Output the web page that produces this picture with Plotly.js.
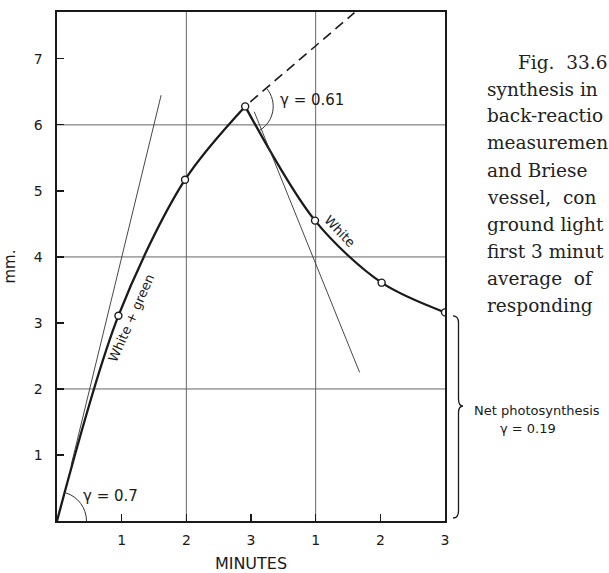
<!DOCTYPE html>
<html>
<head>
<meta charset="utf-8">
<script src="https://cdn.plot.ly/plotly-3.0.1.min.js"></script>
<style>html,body{margin:0;padding:0;background:#fff;}</style>
</head>
<body>
<div id="chart" style="width:609px;height:573px;"></div>
<script>
// ---------- data ----------
const riseMinutes = [0, 0.95, 1.98, 2.91];          // White + green light
const riseMM      = [0, 3.11, 5.17, 6.28];
const fallMinutes = [2.91, 3.99, 5.02, 6.0];         // White light only
const fallMM      = [6.28, 4.55, 3.61, 3.16];
const pointMinutes = [0.95, 1.98, 2.91, 3.99, 5.02, 6.0];
const pointMM      = [3.11, 5.17, 6.28, 4.55, 3.61, 3.16];
const initTangentX = [0.22, 1.61];   // initial slope, gamma = 0.7
const initTangentY = [0.85, 6.45];
const backTangentX = [3.05, 4.68];   // slope after switching green off
const backTangentY = [6.20, 2.25];
const extrapX = [2.99, 4.60];        // dashed extrapolation
const extrapY = [6.35, 7.70];
const xTickVals = [1, 2, 3, 4, 5, 6];
const xTickText = ['1', '2', '3', '1', '2', '3'];
const yTickVals = [1, 2, 3, 4, 5, 6, 7];
// caption column as visible in the (cropped) figure
const captionLines = ['Fig.  33.6', 'synthesis in', 'back-reactio', 'measuremen',
  'and Briese', 'vessel,  con', 'ground light', 'first 3 minut', 'average  of', 'responding'];

// ---------- geometry helpers (decoration only) ----------
const W = 609, H = 573;
const M = {l: 57, r: 164, t: 12, b: 52};
const XR = [0, 6], YR = [0, 7.71];
const pw = W - M.l - M.r, ph = H - M.t - M.b;
const xs = pw / (XR[1] - XR[0]), ys = ph / (YR[1] - YR[0]);
const px2paperX = p => (p - M.l) / pw;
const px2paperY = p => (H - M.b - p) / ph;

function arcPath(cx, cy, rPx, a1, a2) {
  const t1 = a1 * Math.PI / 180, t2 = a2 * Math.PI / 180;
  const k = 4 / 3 * Math.tan((t2 - t1) / 4);
  const P = (t) => [rPx * Math.cos(t), rPx * Math.sin(t)];
  const p0 = P(t1), p3 = P(t2);
  const p1 = [p0[0] - k * rPx * Math.sin(t1), p0[1] + k * rPx * Math.cos(t1)];
  const p2 = [p3[0] + k * rPx * Math.sin(t2), p3[1] - k * rPx * Math.cos(t2)];
  const d = (p) => (cx + p[0] / xs).toFixed(4) + ',' + (cy + p[1] / ys).toFixed(4);
  return 'M' + d(p0) + ' C' + d(p1) + ' ' + d(p2) + ' ' + d(p3);
}

function bracePath() {
  const X = p => px2paperX(p).toFixed(4), Y = p => px2paperY(p).toFixed(4);
  const xl = 453, xm = 458.5, xt = 463, top = 316, bot = 518, tip = 406;
  return 'M' + X(xl) + ',' + Y(top) +
    ' Q' + X(xm) + ',' + Y(top) + ' ' + X(xm) + ',' + Y(top + 7) +
    ' L' + X(xm) + ',' + Y(tip - 7) +
    ' Q' + X(xm) + ',' + Y(tip) + ' ' + X(xt) + ',' + Y(tip) +
    ' Q' + X(xm) + ',' + Y(tip) + ' ' + X(xm) + ',' + Y(tip + 7) +
    ' L' + X(xm) + ',' + Y(bot - 7) +
    ' Q' + X(xm) + ',' + Y(bot) + ' ' + X(xl) + ',' + Y(bot);
}

const ink = '#1a1a1a';
const sans = 'DejaVu Sans, sans-serif';

const traces = [
  {x: riseMinutes, y: riseMM, mode: 'lines', line: {color: ink, width: 2.3, shape: 'spline', smoothing: 0.9}, hoverinfo: 'skip'},
  {x: fallMinutes, y: fallMM, mode: 'lines', line: {color: ink, width: 2.3, shape: 'spline', smoothing: 0.9}, hoverinfo: 'skip'},
  {x: initTangentX, y: initTangentY, mode: 'lines', line: {color: '#333', width: 0.9}},
  {x: backTangentX, y: backTangentY, mode: 'lines', line: {color: '#333', width: 0.9}},
  {x: extrapX, y: extrapY, mode: 'lines', line: {color: ink, width: 1.6, dash: '10px,6px'}},
  {x: pointMinutes, y: pointMM, mode: 'markers', marker: {size: 7, color: '#fff', line: {color: ink, width: 1.4}}}
];

const shapes = [];
[2, 4].forEach(v => shapes.push({type: 'line', xref: 'x', yref: 'paper', x0: v, x1: v, y0: 0, y1: 1, line: {color: '#555', width: 0.9}, layer: 'below'}));
[2, 4, 6].forEach(v => shapes.push({type: 'line', xref: 'paper', yref: 'y', x0: 0, x1: 1, y0: v, y1: v, line: {color: '#555', width: 0.9}, layer: 'below'}));
shapes.push({type: 'path', xref: 'x', yref: 'y', path: arcPath(0, 0, 29.5, 0, 73), line: {color: '#333', width: 1}});
shapes.push({type: 'path', xref: 'x', yref: 'y', path: arcPath(2.91, 6.28, 28, -60, 40), line: {color: '#333', width: 1}});
shapes.push({type: 'path', xref: 'paper', yref: 'paper', path: bracePath(), line: {color: ink, width: 1.3}});

const annotations = [
  {x: 0.83, y: 0.38, xref: 'x', yref: 'y', text: 'γ = 0.7', showarrow: false, font: {family: sans, size: 15, color: ink}},
  {x: 3.95, y: 6.38, xref: 'x', yref: 'y', text: 'γ = 0.61', showarrow: false, font: {family: sans, size: 15, color: ink}},
  {x: 4.38, y: 4.39, xref: 'x', yref: 'y', text: 'White', textangle: 46, showarrow: false, font: {family: sans, size: 13, color: ink}},
  {x: 1.155, y: 3.08, xref: 'x', yref: 'y', text: 'White + green', textangle: -66, showarrow: false, font: {family: sans, size: 13, color: ink}},
  {x: px2paperX(472), y: px2paperY(410), xref: 'paper', yref: 'paper', xanchor: 'left', yanchor: 'middle', text: 'Net photosynthesis', showarrow: false, font: {family: sans, size: 13, color: ink}},
  {x: px2paperX(498), y: px2paperY(428), xref: 'paper', yref: 'paper', xanchor: 'left', yanchor: 'middle', text: 'γ = 0.19', showarrow: false, font: {family: sans, size: 13, color: ink}}
];
captionLines.forEach((t, i) => {
  annotations.push({x: px2paperX(i === 0 ? 516 : 485), y: px2paperY(62 + 27 * i), xref: 'paper', yref: 'paper',
    xanchor: 'left', yanchor: 'middle', text: t, showarrow: false, font: {family: 'DejaVu Serif, serif', size: 18.5, color: '#222'}});
});

const layout = {
  width: W, height: H,
  margin: M,
  paper_bgcolor: '#fff', plot_bgcolor: '#fff',
  showlegend: false,
  xaxis: {
    range: XR, tickvals: xTickVals, ticktext: xTickText,
    ticks: 'inside', ticklen: 7, tickwidth: 1.2, tickcolor: ink,
    showgrid: false, zeroline: false, showline: true, mirror: true, linecolor: ink, linewidth: 1.6,
    tickfont: {family: sans, size: 14, color: ink}, ticklabelstandoff: 6,
    title: {text: 'MINUTES', font: {family: sans, size: 16, color: ink}, standoff: 10},
    automargin: false, fixedrange: true
  },
  yaxis: {
    range: YR, tickvals: yTickVals,
    ticks: 'inside', ticklen: 7, tickwidth: 1.2, tickcolor: ink,
    showgrid: false, zeroline: false, showline: true, mirror: true, linecolor: ink, linewidth: 1.6,
    tickfont: {family: sans, size: 14, color: ink}, ticklabelstandoff: 10,
    title: {text: 'mm.', font: {family: sans, size: 15, color: ink}, standoff: 14},
    automargin: false, fixedrange: true
  },
  shapes: shapes,
  annotations: annotations
};

Plotly.newPlot('chart', traces, layout, {staticPlot: true, displayModeBar: false});
</script>
</body>
</html>
